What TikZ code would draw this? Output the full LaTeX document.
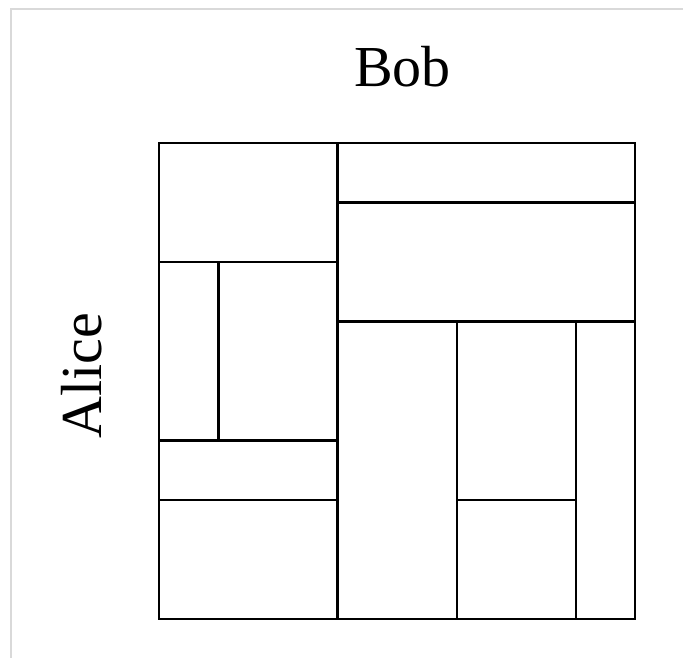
\documentclass[tikz,border=0pt]{standalone}
\usepackage{fontspec}
\setmainfont{Liberation Serif}
\begin{document}
\begin{tikzpicture}[x=1pt,y=-1pt,
  part/.style={line width=2.8pt,line cap=rect},
  frame/.style={line width=2pt,draw=black!15},
  lbl/.style={font=\fontsize{58}{60}\selectfont,inner sep=0pt}]
\useasboundingbox[fill=white] (0,0) rectangle (683,658);
\draw[frame] (683,9.5) -- (10.5,9.5) -- (10.5,658);
% outer square
\draw[part] (159,143) rectangle (635,619);
% partition lines
\draw[part] (337.5,143) -- (337.5,619);
\draw[part] (337.5,202.5) -- (635,202.5);
\draw[part] (337.5,321.5) -- (635,321.5);
\draw[part] (159,262) -- (337.5,262);
\draw[part] (218.5,262) -- (218.5,440.5);
\draw[part] (159,440.5) -- (337.5,440.5);
\draw[part] (159,500) -- (337.5,500);
\draw[part] (457,321.5) -- (457,619);
\draw[part] (576,321.5) -- (576,619);
\draw[part] (457,500) -- (576,500);
% labels
\node[lbl,anchor=base] (bob) at (402.5,87) {Bob};
\node[lbl,anchor=base,rotate=90] (alice) at (101,376) {Alice};
\end{tikzpicture}
\end{document}
